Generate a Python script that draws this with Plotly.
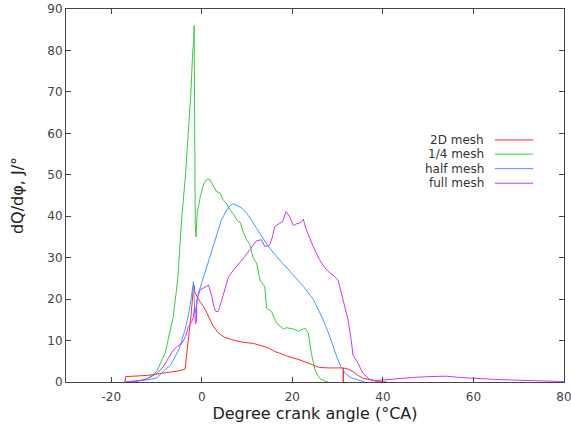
import plotly.graph_objects as go

# 2D mesh
red_x = [-17, -16.8, -12, -8, -5, -3.7, -3, -2.3, -1.9, -1.7, -1.5, -1.1, -0.4, 0.5, 1.5, 2.5, 3.7, 5, 7, 9, 11.4,
         12.85, 14, 15, 16, 17.3, 19, 21.7, 23.5, 25, 26, 28, 31.2, 31.25, 31.3, 32.3, 33.4, 34.5, 35.6, 37.8, 39, 41]
red_y = [0, 1.3, 1.6, 2.2, 2.7, 3.1, 10, 17, 22.5, 23.4, 21.5, 20.6, 19.4, 18, 15.8, 13.5, 11.8, 10.8, 10.1, 9.6, 9.3,
         8.9, 8.5, 8.1, 7.4, 6.9, 6.2, 5.3, 4.5, 3.8, 3.5, 3.4, 3.4, 0, 3.4, 3.1, 2.5, 1.6, 0.9, 0.4, 0.1, 0]

# 1/4 mesh
green_x = [-16, -14, -12, -10, -8.1, -6.3, -5.3, -4.4, -3.6, -2.95, -2.4, -2.0, -1.8, -1.7, -1.6, -1.45, -1.3, -1.0,
           -0.75, -0.3, 0.5, 1.2, 1.8, 2.5, 3.2, 4, 4.7, 5.5, 6.2, 7, 7.8, 8.5, 9.2, 9.9, 10.6, 11.3, 12.1, 12.85,
           13.9, 14.3, 15.4, 16.5, 17.2, 18, 18.7, 20.2, 21.3, 22.8, 23.5, 24.2, 25, 26, 27.2, 28]
green_y = [0, 0.2, 0.8, 2.5, 7, 15.8, 25, 40, 50, 60, 70, 80, 82, 86, 60, 38, 35, 41,
           42.3, 45, 48, 49, 48.8, 47.5, 46, 45.6, 44, 43, 41.5, 40.5, 39, 38.5, 36, 34.3, 33.2, 30, 28.7, 24.6,
           23, 17.8, 17, 14.2, 13.6, 12.8, 13.1, 12.8, 12.2, 13, 11.8, 6.9, 2.9, 0.9, 0.2, 0]

# half mesh
blue_x = [-17, -14, -12, -10, -8.5, -7, -6.3, -5, -3.7, -2.8, -2.2, -1.85, -1.7, -1.5, -1.2, -0.75, 0, 1, 1.8, 2.5,
          3.3, 4.3, 5.5, 6.3, 7, 7.8, 8.8, 9.9, 11, 12.8, 14.5, 16.5, 18, 19.5, 21.3, 22.5, 23.5, 24.6, 25.5,
          26.8, 28, 29, 30, 30.8, 32, 33, 34.9, 36]
blue_y = [0, 0.2, 0.5, 1, 2.5, 4, 5.3, 8, 12.6, 17, 21.4, 24.2, 20, 16.6, 18.5, 21.4, 24, 27.5, 30.3, 33,
          35.9, 39, 41.5, 42.6, 43, 42.6, 42, 40.7, 39, 35.9, 33, 30.3, 28.5, 26.5, 24.6, 23, 21.5, 20, 18,
          15, 11.8, 8.5, 5.5, 3.5, 1.8, 1, 0.3, 0]

# full mesh
purple_x = [-17, -14, -12, -10, -8.5, -7.5, -6.3, -5.3, -4.4, -3.6, -2.95, -2.3, -1.85, -1.6, -1.4, -1.2, -1.1,
            -0.4, 0.5, 1.5, 2.2, 2.7, 3.1, 3.6, 4.2, 4.8, 5.9, 7, 8.4, 9.5, 10.6, 11.4, 12.1, 13.2, 13.9, 14.5,
            15, 15.6, 16.1, 17.2, 17.8, 18.6, 19.4, 20.2, 21, 21.7, 22.4, 23, 24.6, 26, 27.2, 28.3, 29.3, 30.1,
            31.2, 32.3, 33, 33.4, 34.5, 35.6, 37.1, 38, 40, 43, 46.6, 50, 54, 57, 60, 62, 65, 70, 75, 80]
purple_y = [0, 0.3, 0.8, 2, 3.7, 5.5, 7.7, 8.7, 9.3, 11, 13.4, 14.5, 15.5, 18, 14, 14.5, 19.8,
            22.2, 22.8, 23.4, 20.6, 18, 17, 17, 19, 21.4, 25.4, 27, 28.7, 30.3, 31.9, 33.2, 34.1, 34.3, 32.7, 32.8,
            33.1, 35, 37.5, 38.3, 38.6, 41.1, 39.9, 37.7, 38.2, 38.4, 39.3, 37, 32.7, 29.5, 27.5, 26.3, 25.5, 24.6,
            19.8, 15, 10.1, 6.5, 4.5, 2.1, 0.6, 0.3, 0.5, 0.8, 1.1, 1.3, 1.4, 1.1, 1.0, 0.8, 0.6, 0.4, 0.2, 0.1]

names = ["2D mesh", "1/4 mesh", "half mesh", "full mesh"]
colors = ["#ff2a2a", "#3cc83c", "#3d9bff", "#cc33ff"]
series = [(red_x, red_y), (green_x, green_y), (blue_x, blue_y), (purple_x, purple_y)]

x_ticks = [-20, 0, 20, 40, 60, 80]
y_ticks = [0, 10, 20, 30, 40, 50, 60, 70, 80, 90]

fig = go.Figure()
for (xs, ys), nm, c in zip(series, names, colors):
    fig.add_trace(go.Scatter(x=xs, y=ys, mode="lines", name=nm, showlegend=False,
                             line=dict(color=c, width=1)))

axis_common = dict(showgrid=False, zeroline=False, showline=True, linecolor="#444", linewidth=1,
                   mirror="allticks", ticks="inside", ticklen=5, tickcolor="#444", automargin=False,
                   ticklabeloverflow="allow",
                   tickfont=dict(family="DejaVu Sans", size=12, color="#444"))

fig.update_xaxes(range=[-30, 80], tickvals=x_ticks, ticktext=[str(v) for v in x_ticks],
                 ticklabelstandoff=4,
                 title=dict(text="Degree crank angle (°CA)", standoff=0,
                            font=dict(family="DejaVu Sans", size=16, color="#222")),
                 **axis_common)
fig.update_yaxes(range=[0, 90], tickvals=y_ticks, ticktext=[str(v) for v in y_ticks],
                 title=dict(text="dQ/dφ, J/°", standoff=19,
                            font=dict(family="DejaVu Sans", size=16, color="#222")),
                 **axis_common)

# legend: text right-aligned, sample line to the right
legend_y = [0.649, 0.611, 0.572, 0.533]
for nm, c, ly in zip(names, colors, legend_y):
    fig.add_annotation(xref="paper", yref="paper", x=0.843, y=ly, xanchor="right", yanchor="middle",
                       text=nm, showarrow=False,
                       font=dict(family="DejaVu Sans", size=12, color="#333"))
    fig.add_shape(type="line", xref="paper", yref="paper", x0=0.861, x1=0.938, y0=ly, y1=ly,
                  line=dict(color=c, width=1))

fig.update_layout(width=571, height=427, margin=dict(l=66, r=7, t=9, b=45),
                  plot_bgcolor="white", paper_bgcolor="white")

fig.write_html("out.html", config={"displayModeBar": False},
               post_script="document.body.style.margin='0';document.body.style.overflow='hidden';")
